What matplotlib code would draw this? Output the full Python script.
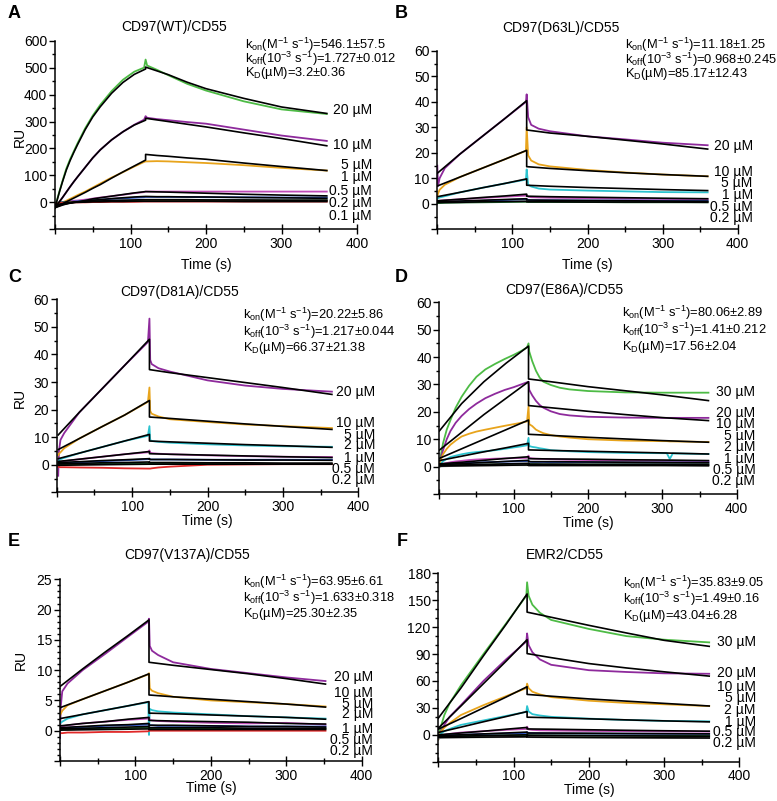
import matplotlib
matplotlib.use("Agg")
import matplotlib.pyplot as plt
from matplotlib.ticker import MultipleLocator, FuncFormatter

plt.rcParams['font.family'] = ['Liberation Sans', 'DejaVu Sans']
plt.rcParams['mathtext.fontset'] = 'custom'
plt.rcParams['mathtext.rm'] = 'Liberation Sans'
plt.rcParams['mathtext.it'] = 'Liberation Sans:italic'
plt.rcParams['mathtext.bf'] = 'Liberation Sans:bold'

W, H = 777, 801

# ---------------- colours ----------------
GREEN, PURPLE, ORANGE, CYAN = '#4dbb45', '#8e2a9c', '#e8a41c', '#2cc3cf'
PINK, BLUE, DKGREEN, RED, GREY = '#c04cb8', '#2d55c4', '#1f6b2e', '#e02828', '#9a9a9a'

# ---------------- Panel A: CD97(WT)/CD55 ----------------
A_conc = ['20 µM', '10 µM', '5 µM', '1 µM', '0.5 µM', '0.2 µM', '0.1 µM']
A_colors = [GREEN, PURPLE, ORANGE, PINK, BLUE, DKGREEN, RED]
A_t_fit = [0, 3, 6, 10, 15, 20, 25, 30, 40, 50, 60, 75, 90, 105, 120, 120, 135, 150, 175, 200, 250, 300, 360]
A_fit_20 = [-20, 10, 40, 77, 120, 155, 186, 215, 270, 317, 355, 405, 445, 475, 495, 502, 488, 474, 446, 422, 386, 354, 330]
A_fit_10 = [-20, -8, 3, 18, 38, 58, 77, 95, 130, 165, 195, 232, 262, 287, 305, 312, 306, 300, 290, 280, 258, 237, 210]
A_fit_5 = [-20, -15, -11, -5, 2, 9, 16, 23, 37, 52, 66, 90, 113, 135, 157, 178, 174, 171, 165, 160, 146, 133, 118]
A_fit_1 = [-20, -17, -14, -10, -6, -3, 0, 2, 7, 13, 17, 23, 29, 35, 40, 40, 39, 38, 36, 34, 30, 27, 24]
A_fit_05 = [-18, -15, -12, -8, -5, -2, 0, 1, 4, 8, 10, 14, 17, 20, 22, 22, 21, 21, 20, 20, 18, 17, 15]
A_fit_02 = [-15, -12, -9, -6, -4, -2, 0, 1, 2, 4, 5, 7, 8, 9, 10, 10, 10, 10, 10, 9, 9, 8, 8]
A_fit_01 = [-12, -10, -7, -5, -3, -1, 0, 0, 1, 2, 2, 3, 3, 4, 4, 4, 4, 4, 4, 4, 3, 3, 3]
A_t_dat = [0, 3, 6, 10, 15, 20, 25, 30, 40, 50, 60, 75, 90, 105, 118, 120, 122, 135, 150, 175, 200, 250, 300, 360]
A_dat_20 = [-15, 12, 42, 80, 125, 160, 190, 220, 275, 322, 362, 413, 455, 485, 500, 530, 508, 492, 472, 440, 415, 375, 345, 328]
A_dat_10 = [-15, -8, 3, 18, 38, 58, 77, 95, 130, 165, 195, 232, 262, 288, 307, 320, 314, 309, 305, 298, 292, 270, 248, 228]
A_dat_5 = [-10, -7, -4, 0, 6, 13, 20, 27, 40, 55, 70, 92, 112, 133, 150, 152, 152, 153, 152, 149, 146, 138, 128, 118]
A_dat_1 = [-5, -3, -1, 0, 2, 4, 6, 7, 10, 14, 18, 23, 28, 34, 38, 40, 40, 40, 40, 40, 40, 40, 40, 40]
A_dat_05 = [-5, -3, -1, 0, 1, 2, 3, 4, 6, 8, 10, 13, 15, 17, 19, 20, 20, 20, 20, 20, 19, 19, 18, 18]
A_dat_02 = [-3, -2, -1, 0, 1, 1, 2, 2, 3, 4, 4, 5, 6, 6, 7, 8, 8, 8, 8, 8, 8, 7, 7, 7]
A_dat_01 = [-5, -4, -3, -2, -1, -1, 0, 0, 0, 1, 1, 2, 2, 2, 3, 3, 3, 3, 3, 3, 3, 3, 3, 3]
A_label_y = [341, 214, 140, 94, 41, -2, -52]

# ---------------- Panel B: CD97(D63L)/CD55 ----------------
B_conc = ['20 µM', '10 µM', '5 µM', '1 µM', '0.5 µM', '0.2 µM']
B_colors = [PURPLE, ORANGE, CYAN, PINK, BLUE, DKGREEN]
B_t_fit = [0, 30, 60, 90, 119, 119, 150, 200, 250, 300, 360]
B_fit_20 = [12, 19.5, 26.5, 33.5, 40.5, 29, 27.8, 26.5, 25, 23.5, 21.5]
B_fit_10 = [7, 10.5, 14, 17.5, 21, 14.6, 13.9, 13.0, 12.2, 11.5, 10.8]
B_fit_5 = [2.8, 4.5, 6.3, 8.0, 9.8, 7.3, 6.9, 6.4, 6.0, 5.6, 5.2]
B_fit_1 = [1.2, 1.8, 2.5, 3.1, 3.8, 3.0, 2.8, 2.6, 2.4, 2.2, 2.0]
B_fit_05 = [0.8, 1.1, 1.4, 1.7, 2.0, 1.5, 1.4, 1.3, 1.2, 1.1, 1.0]
B_fit_02 = [0.5, 0.6, 0.8, 0.9, 1.0, 0.8, 0.8, 0.7, 0.7, 0.7, 0.6]
B_t_dat = [0, 1, 3, 10, 30, 60, 90, 118, 119, 121, 125, 135, 150, 200, 250, 300, 360]
B_dat_20 = [15, 7, 10, 14, 19.5, 26.5, 33.5, 40, 43, 34, 31, 29.5, 28.5, 26.5, 25.3, 24, 23]
B_dat_10 = [3, 4, 5.5, 7.5, 10.5, 14, 17.5, 20.8, 30, 19, 17, 15.5, 14.7, 13.3, 12.3, 11.5, 10.8]
B_dat_5 = [2, 2.2, 2.5, 3, 4.5, 6.3, 8, 9.5, 13.5, 7.5, 6.8, 6.0, 5.6, 5.2, 4.9, 4.6, 4.5]
B_dat_1 = [1, 1.1, 1.2, 1.4, 1.8, 2.3, 2.8, 3.2, 3.5, 2.8, 2.6, 2.5, 2.4, 2.2, 2.0, 1.9, 1.8]
B_dat_05 = [0.5, 0.5, 0.6, 0.7, 0.9, 1.2, 1.5, 1.8, 1.9, 1.5, 1.4, 1.4, 1.4, 1.3, 1.3, 1.2, 1.2]
B_dat_02 = [0.3, 0.3, 0.3, 0.4, 0.5, 0.6, 0.7, 0.8, 0.8, 0.7, 0.7, 0.7, 0.7, 0.7, 0.6, 0.6, 0.6]
B_label_y = [22.7, 12.6, 8.3, 3.3, -1.4, -5.6]

# ---------------- Panel C: CD97(D81A)/CD55 ----------------
C_conc = ['20 µM', '10 µM', '5 µM', '2 µM', '1 µM', '0.5 µM', '0.2 µM']
C_colors = [PURPLE, ORANGE, CYAN, PINK, BLUE, DKGREEN, RED]
C_t_fit = [2, 30, 60, 90, 123, 123, 150, 200, 250, 300, 365]
C_fit_20 = [10.8, 19, 27.5, 36, 45.5, 34.5, 33.4, 31.6, 29.8, 28.0, 25.5]
C_fit_10 = [5.5, 9.5, 13.8, 18, 23.3, 17.3, 16.8, 15.8, 14.8, 13.9, 12.8]
C_fit_5 = [2.2, 4.2, 6.4, 8.6, 11, 8.6, 8.3, 7.8, 7.3, 6.9, 6.3]
C_fit_2 = [1.2, 2.0, 2.9, 3.8, 4.8, 4.0, 3.8, 3.5, 3.2, 2.9, 2.6]
C_fit_1 = [0.8, 1.1, 1.5, 1.8, 2.2, 1.9, 1.9, 1.8, 1.7, 1.7, 1.6]
C_fit_05 = [0.3, 0.5, 0.7, 0.8, 1.0, 0.8, 0.8, 0.7, 0.7, 0.6, 0.6]
C_fit_02 = [-0.2, -0.1, 0, 0.1, 0.2, 0.2, 0.2, 0.2, 0.2, 0.2, 0.2]
C_t_dat = [2, 3, 5, 10, 30, 60, 90, 121, 123, 124, 126, 135, 150, 200, 250, 300, 365]
C_dat_20 = [-4, 5, 9, 11.5, 19, 27.5, 36, 44.5, 53, 38, 36.5, 35, 33.8, 30.6, 28.7, 27.5, 26.5]
C_dat_10 = [3.5, 4, 4.5, 6, 9.5, 13.8, 18, 22.8, 28, 19.5, 18.5, 17.5, 16.5, 15.5, 14.6, 14, 13.3]
C_dat_5 = [1.0, 1.5, 2, 2.5, 4.2, 6.4, 8.6, 10.5, 14, 9, 8.6, 8.3, 8, 7.4, 7, 6.7, 6.5]
C_dat_2 = [0.5, 0.8, 1.0, 1.3, 2.0, 2.9, 3.8, 4.5, 5.2, 4.4, 4.2, 4.0, 3.8, 3.4, 3.1, 2.9, 2.8]
C_dat_1 = [0.3, 0.4, 0.5, 0.6, 0.9, 1.3, 1.6, 2.0, 2.2, 1.9, 1.9, 1.9, 1.9, 1.8, 1.8, 1.8, 1.8]
C_dat_05 = [0, 0, 0, 0.1, 0.2, 0.3, 0.4, 0.5, 0.5, 0.4, 0.4, 0.4, 0.4, 0.3, 0.3, 0.3, 0.3]
C_dat_02 = [-0.8, -0.8, -0.9, -0.9, -1.0, -1.1, -1.3, -1.4, -1.4, -1.4, -1.3, -1.0, -0.7, 0, 0.1, 0.2, 0.2]
C_label_y = [26.5, 15, 10.8, 7, 2.4, -1.6, -5.4]

# ---------------- Panel D: CD97(E86A)/CD55 ----------------
D_conc = ['30 µM', '20 µM', '10 µM', '5 µM', '2 µM', '1 µM', '0.5 µM', '0.2 µM']
D_colors = [GREEN, PURPLE, ORANGE, CYAN, PINK, BLUE, DKGREEN, GREY]
D_t_fit = [0, 30, 60, 90, 120, 120, 150, 200, 250, 300, 362]
D_fit_30 = [13, 23, 31, 37.8, 44, 32, 31, 29.2, 27.7, 26.2, 24.1]
D_fit_20 = [6, 12.5, 19, 25, 31, 22.3, 21.5, 20.2, 19.0, 17.9, 16.8]
D_fit_10 = [3, 6.5, 10, 13.5, 17, 11.8, 11.4, 10.7, 10.1, 9.5, 8.9]
D_fit_5 = [2.2, 3.8, 5.4, 6.9, 8.5, 6.1, 5.9, 5.6, 5.3, 5.0, 4.6]
D_fit_2 = [1, 1.6, 2.3, 3.0, 3.6, 2.9, 2.8, 2.7, 2.5, 2.4, 2.2]
D_fit_1 = [0.7, 1.1, 1.5, 1.9, 2.3, 1.8, 1.8, 1.7, 1.6, 1.5, 1.4]
D_fit_05 = [0.4, 0.6, 0.8, 1.0, 1.2, 0.9, 0.9, 0.8, 0.8, 0.8, 0.7]
D_fit_02 = [0.2, 0.3, 0.4, 0.5, 0.6, 0.4, 0.4, 0.4, 0.4, 0.4, 0.3]
D_t_dat = [0, 2, 5, 10, 15, 22, 30, 40, 50, 62, 75, 88, 100, 110, 118, 120, 121, 125, 130, 135, 140,
           150, 162, 175, 200, 250, 300, 306, 310, 314, 362]
D_dat_30 = [0, 4, 8.5, 13.5, 17, 21.5, 25.5, 29.5, 32.8, 35.5, 37.5, 39.3, 40.8, 42.2, 43.5, 45, 42, 38.5,
            35, 32.5, 31, 29.8, 28.8, 28.2, 27.6, 27.1, 27, 27, 27, 27, 27]
D_dat_20 = [0, 3, 6, 10, 13, 16, 18.5, 21, 23, 25, 26.6, 28, 29, 30, 30.8, 31, 28, 26, 24, 22.5, 21.5,
            20.2, 19.2, 18.7, 18.2, 17.9, 17.8, 17.8, 17.8, 17.8, 17.8]
D_dat_10 = [0, 2.5, 4.5, 6.5, 8, 9.5, 11, 12, 12.8, 13.5, 14.2, 14.9, 15.5, 16, 16.5, 22, 15.5, 14.8,
            13.5, 12.8, 12.2, 11.5, 11, 10.6, 10, 9.5, 9.3, 9.3, 9.2, 9.2, 9]
D_dat_5 = [0, 1, 2, 2.8, 3.5, 4, 4.5, 5, 5.3, 5.6, 6, 6.5, 7, 7.4, 7.8, 10.5, 7.5, 7.2, 7, 6.7, 6.5,
           6, 5.8, 5.6, 5.3, 5, 4.9, 4.9, 2.8, 4.8, 4.6]
D_dat_2 = [0, 0.5, 1, 1.3, 1.6, 1.9, 2.1, 2.4, 2.6, 2.75, 2.9, 3.0, 3.1, 3.15, 3.2, 4, 3.2, 3.0, 2.9,
           2.85, 2.8, 2.7, 2.6, 2.5, 2.4, 2.2, 2.1, 2.1, 2.1, 2.1, 2.0]
D_dat_1 = [0, 0.3, 0.6, 0.8, 1.0, 1.15, 1.3, 1.4, 1.5, 1.6, 1.7, 1.8, 1.9, 1.95, 2.0, 2.3, 1.8, 1.7,
           1.7, 1.7, 1.7, 1.6, 1.6, 1.6, 1.6, 1.5, 1.5, 1.5, 1.5, 1.5, 1.5]
D_dat_05 = [0, 0.15, 0.3, 0.4, 0.5, 0.55, 0.6, 0.65, 0.7, 0.75, 0.8, 0.85, 0.9, 0.95, 1.0, 1.1, 0.9,
            0.9, 0.9, 0.85, 0.8, 0.8, 0.8, 0.8, 0.8, 0.8, 0.8, 0.8, 0.8, 0.8, 0.8]
D_dat_02 = [0, 0.05, 0.1, 0.15, 0.2, 0.25, 0.3, 0.35, 0.4, 0.4, 0.4, 0.45, 0.5, 0.5, 0.5, 0.5, 0.5,
            0.5, 0.5, 0.5, 0.5, 0.5, 0.5, 0.5, 0.5, 0.5, 0.5, 0.5, 0.5, 0.5, 0.5]
D_label_y = [27.4, 19.5, 15.5, 11.3, 7.3, 2.7, -1.2, -5.2]

# ---------------- Panel E: CD97(V137A)/CD55 ----------------
E_conc = ['20 µM', '10 µM', '5 µM', '2 µM', '1 µM', '0.5 µM', '0.2 µM']
E_colors = [PURPLE, ORANGE, CYAN, PINK, BLUE, DKGREEN, RED]
E_t_fit = [0, 30, 60, 90, 118, 118, 150, 200, 250, 300, 352]
E_fit_20 = [7.3, 10.2, 13, 15.7, 18.3, 11.3, 10.8, 10.1, 9.4, 8.6, 7.7]
E_fit_10 = [3.8, 5.2, 6.6, 8.0, 9.4, 5.9, 5.6, 5.2, 4.8, 4.4, 3.9]
E_fit_5 = [2.0, 2.7, 3.4, 4.1, 4.8, 2.9, 2.8, 2.6, 2.4, 2.2, 1.9]
E_fit_2 = [0.8, 1.2, 1.5, 1.9, 2.2, 1.7, 1.6, 1.5, 1.4, 1.2, 1.1]
E_fit_1 = [0.5, 0.7, 0.9, 1.0, 1.2, 0.9, 0.9, 0.8, 0.7, 0.7, 0.6]
E_fit_05 = [0.3, 0.4, 0.5, 0.6, 0.7, 0.5, 0.5, 0.5, 0.4, 0.4, 0.4]
E_fit_02 = [0.1, 0.15, 0.2, 0.25, 0.3, 0.2, 0.2, 0.2, 0.2, 0.2, 0.2]
E_t_dat = [0, 1, 3, 10, 30, 60, 90, 117, 118, 119, 122, 130, 150, 200, 250, 300, 352]
E_dat_20 = [-1.2, 4, 6.5, 7.8, 10, 12.7, 15.5, 18, 18.5, 14, 13.2, 12.5, 11.3, 10.2, 9.5, 8.8, 8.2]
E_dat_10 = [2.5, 2.8, 3.3, 4.2, 5.2, 6.6, 8, 9.3, 9.5, 7, 6.6, 6.2, 5.6, 5.0, 4.7, 4.4, 4.0]
E_dat_5 = [1.2, 1.3, 1.5, 2.0, 2.7, 3.4, 4.1, 4.7, -0.7, 3.6, 3.4, 3.2, 3.0, 2.7, 2.4, 2.2, 2.0]
E_dat_2 = [0.5, 0.6, 0.7, 0.9, 1.2, 1.5, 1.8, 2.0, 2.2, 1.8, 1.7, 1.6, 1.5, 1.3, 1.2, 1.3, 1.0]
E_dat_1 = [0.3, 0.3, 0.4, 0.5, 0.6, 0.8, 0.9, 1.0, 1.1, 0.9, 0.9, 0.8, 0.8, 0.8, 0.7, 0.7, 0.7]
E_dat_05 = [0.1, 0.1, 0.2, 0.2, 0.3, 0.4, 0.4, 0.5, 0.5, 0.4, 0.4, 0.4, 0.4, 0.4, 0.3, 0.3, 0.3]
E_dat_02 = [-0.5, -0.4, -0.4, -0.3, -0.3, -0.2, -0.2, -0.1, 0, 0, 0, 0, 0, 0, 0, 0, 0]
E_label_y = [8.8, 6.3, 4.4, 2.7, 0.3, -1.5, -3.3]

# ---------------- Panel F: EMR2/CD55 ----------------
F_conc = ['30 µM', '20 µM', '10 µM', '5 µM', '2 µM', '1 µM', '0.5 µM', '0.2 µM']
F_colors = [GREEN, PURPLE, ORANGE, CYAN, PINK, BLUE, DKGREEN, GREY]
F_t_fit = [0, 30, 60, 90, 118, 118, 150, 200, 250, 300, 360]
F_fit_30 = [18.5, 52, 88, 123, 157, 136.7, 131, 122, 113.5, 105.3, 98.6]
F_fit_20 = [7.4, 32, 57, 82, 106, 90.5, 86, 79.4, 74.5, 70.2, 65.4]
F_fit_10 = [6.3, 18, 30, 42, 53.6, 45, 43, 40, 37.5, 35, 32.1]
F_fit_5 = [2.6, 8.5, 14.5, 20.3, 25.9, 19.6, 19, 17.8, 16.6, 15.5, 14.4]
F_fit_2 = [0, 2, 4, 6.2, 8.2, 6.5, 6.2, 5.6, 5.0, 4.5, 4.0]
F_fit_1 = [-1, 0, 1, 2, 3, 2, 1.9, 1.7, 1.4, 1.2, 1.0]
F_fit_05 = [-2, -1.5, -1, -0.5, 0, -0.5, -0.7, -1.0, -1.2, -1.4, -1.6]
F_fit_02 = [-3, -2.8, -2.6, -2.4, -2.2, -2.5, -2.7, -3, -3.2, -3.4, -3.6]
F_t_dat = [0, 3, 8, 15, 30, 60, 90, 117, 118, 120, 125, 135, 150, 200, 250, 300, 360]
F_dat_30 = [-5, 8, 22, 35, 55, 90, 124, 155, 170, 155, 145, 136, 128, 118, 110, 106, 103]
F_dat_20 = [-5, 3, 11, 20, 33, 60, 84, 104, 113, 100, 92, 84, 78, 72, 70, 68.5, 68]
F_dat_10 = [-5, 3, 8, 13, 22, 33, 43, 52, 57, 52, 48, 45, 42, 38, 35.5, 34, 32]
F_dat_5 = [-3, 1, 4, 6.5, 11, 16, 21, 25.5, 32, 26, 23, 21.5, 20, 18, 16.5, 15.5, 15]
F_dat_2 = [-2, -1, 0, 1, 2.5, 4, 5.5, 6.5, 9, 6, 5.5, 5.0, 4.8, 4.3, 4.0, 3.7, 3.5]
F_dat_1 = [-2, -1.5, -1, -0.5, 0, 0.8, 1.5, 2, 3, 1.8, 1.7, 1.6, 1.5, 1.3, 1.2, 1.1, 1.0]
F_dat_05 = [-3, -2.5, -2, -1.8, -1.5, -1, -0.6, -0.3, 0.5, -0.5, -0.6, -0.7, -0.8, -1.0, -1.1, -1.2, -1.3]
F_dat_02 = [-4, -3.5, -3.3, -3.2, -3, -2.8, -2.6, -2.4, -2, -2.6, -2.7, -2.8, -2.9, -3.0, -3.1, -3.2, -3.3]
F_label_y = [103, 69, 53.6, 40.6, 27.7, 14.8, 2.6, -9.2]

# ---------------- panel texts ----------------
titles = ['CD97(WT)/CD55', 'CD97(D63L)/CD55', 'CD97(D81A)/CD55',
          'CD97(E86A)/CD55', 'CD97(V137A)/CD55', 'EMR2/CD55']
kon = ['546.1±57.5', '11.18±1.25', '20.22±5.86', '80.06±2.89', '63.95±6.61', '35.83±9.05']
koff = ['1.727±0.012', '0.968±0.245', '1.217±0.044', '1.41±0.212', '1.633±0.318', '1.49±0.16']
kd = ['3.2±0.36', '85.17±12.43', '66.37±21.38', '17.56±2.04', '25.30±2.35', '43.04±6.28']
letters = ['A', 'B', 'C', 'D', 'E', 'F']

panels = [
    dict(tf=A_t_fit, fits=[A_fit_20, A_fit_10, A_fit_5, A_fit_1, A_fit_05, A_fit_02, A_fit_01],
         td=A_t_dat, dats=[A_dat_20, A_dat_10, A_dat_5, A_dat_1, A_dat_05, A_dat_02, A_dat_01],
         colors=A_colors, conc=A_conc, ly=A_label_y),
    dict(tf=B_t_fit, fits=[B_fit_20, B_fit_10, B_fit_5, B_fit_1, B_fit_05, B_fit_02],
         td=B_t_dat, dats=[B_dat_20, B_dat_10, B_dat_5, B_dat_1, B_dat_05, B_dat_02],
         colors=B_colors, conc=B_conc, ly=B_label_y),
    dict(tf=C_t_fit, fits=[C_fit_20, C_fit_10, C_fit_5, C_fit_2, C_fit_1, C_fit_05, C_fit_02],
         td=C_t_dat, dats=[C_dat_20, C_dat_10, C_dat_5, C_dat_2, C_dat_1, C_dat_05, C_dat_02],
         colors=C_colors, conc=C_conc, ly=C_label_y),
    dict(tf=D_t_fit, fits=[D_fit_30, D_fit_20, D_fit_10, D_fit_5, D_fit_2, D_fit_1, D_fit_05, D_fit_02],
         td=D_t_dat, dats=[D_dat_30, D_dat_20, D_dat_10, D_dat_5, D_dat_2, D_dat_1, D_dat_05, D_dat_02],
         colors=D_colors, conc=D_conc, ly=D_label_y),
    dict(tf=E_t_fit, fits=[E_fit_20, E_fit_10, E_fit_5, E_fit_2, E_fit_1, E_fit_05, E_fit_02],
         td=E_t_dat, dats=[E_dat_20, E_dat_10, E_dat_5, E_dat_2, E_dat_1, E_dat_05, E_dat_02],
         colors=E_colors, conc=E_conc, ly=E_label_y),
    dict(tf=F_t_fit, fits=[F_fit_30, F_fit_20, F_fit_10, F_fit_5, F_fit_2, F_fit_1, F_fit_05, F_fit_02],
         td=F_t_dat, dats=[F_dat_30, F_dat_20, F_dat_10, F_dat_5, F_dat_2, F_dat_1, F_dat_05, F_dat_02],
         colors=F_colors, conc=F_conc, ly=F_label_y),
]

# ---------------- layout (pixels) ----------------
boxes = [(55, 357, 40.7, 229.3), (437.3, 737.7, 51, 229.3),
         (56.7, 358.3, 299.3, 492.3), (439.3, 736.7, 302.3, 494),
         (60, 361.7, 579.3, 761), (438.3, 739.3, 573.3, 761.7)]
ylims = [(-100, 600), (-10, 60), (-10, 60), (-10, 60), (-5, 25), (-30, 180)]
ymajor = [100, 10, 10, 10, 5, 30]
yminor = [50, 5, 5, 5, 1, 10]
label_x = [420, 420, 422, 425, 415, 422]
title_pos = [(174, 27), (561, 28), (180, 292), (564, 290), (187, 555), (565, 555)]
ann_pos = [(245, [45, 59, 73]), (625, [45, 60, 74]), (243, [315, 331.5, 348]),
           (622, [313, 330, 346.5]), (243, [581.5, 598, 614.5]), (623, [582.5, 599, 615.5])]
letter_pos = [(8, 14), (395, 14), (8, 277), (395, 277), (8, 541), (397, 541)]
xlabel_pos = [(206, 265), (587, 265), (207, 521.5), (588, 523), (211, 788), (589, 790)]
ru_pos = [(20, 137), (20, 398), (21, 660)]

fig = plt.figure(figsize=(W / 100, H / 100), dpi=100)


def fx(x):
    return x / W


def fy(y):
    return 1 - y / H


for i, p in enumerate(panels):
    l, r, t, b = boxes[i]
    ax = fig.add_axes([fx(l), fy(b), (r - l) / W, (b - t) / H])
    for k in range(len(p['fits'])):
        ax.plot(p['td'], p['dats'][k], color=p['colors'][k], lw=1.3, zorder=2,
                solid_joinstyle='round')
    for k in range(len(p['fits'])):
        ax.plot(p['tf'], p['fits'][k], color='black', lw=1.2, zorder=3,
                solid_joinstyle='round')
    for k, c in enumerate(p['conc']):
        ax.text(label_x[i], p['ly'][k], c, ha='right', va='center', fontsize=10,
                clip_on=False)
    ax.set_xlim(0, 400)
    ax.set_ylim(*ylims[i])
    for s in ['top', 'right']:
        ax.spines[s].set_visible(False)
    for s in ['left', 'bottom']:
        ax.spines[s].set_linewidth(1.1)
    ax.xaxis.set_major_locator(MultipleLocator(100))
    ax.xaxis.set_minor_locator(MultipleLocator(50))
    ax.yaxis.set_major_locator(MultipleLocator(ymajor[i]))
    ax.yaxis.set_minor_locator(MultipleLocator(yminor[i]))
    ax.xaxis.set_major_formatter(FuncFormatter(lambda v, pos: '' if v <= 0 else '%d' % v))
    ax.yaxis.set_major_formatter(FuncFormatter(lambda v, pos: '' if v < 0 else '%d' % v))
    ax.tick_params(axis='x', which='major', direction='inout', length=7, width=1.0,
                   labelsize=10, pad=2)
    ax.tick_params(axis='x', which='minor', direction='inout', length=4, width=1.0)
    ax.tick_params(axis='y', which='major', direction='out', length=4, width=1.0,
                   labelsize=10, pad=1.5)
    ax.tick_params(axis='y', which='minor', direction='out', length=2.5, width=1.0)

    fig.text(fx(title_pos[i][0]), fy(title_pos[i][1]), titles[i], ha='center',
             va='center', fontsize=10)
    ax0, ays = ann_pos[i]
    fig.text(fx(ax0), fy(ays[0]), r'k$_{\mathrm{on}}$(M$^{\mathrm{-1}}$ s$^{\mathrm{-1}}$)=' + kon[i],
             ha='left', va='center', fontsize=9.3)
    fig.text(fx(ax0), fy(ays[1]), r'k$_{\mathrm{off}}$(10$^{\mathrm{-3}}$ s$^{\mathrm{-1}}$)=' + koff[i],
             ha='left', va='center', fontsize=9.3)
    fig.text(fx(ax0), fy(ays[2]), r'K$_{\mathrm{D}}$(µM)=' + kd[i],
             ha='left', va='center', fontsize=9.3)
    fig.text(fx(letter_pos[i][0]), fy(letter_pos[i][1]), letters[i], ha='left',
             va='center', fontsize=13, fontweight='bold')
    fig.text(fx(xlabel_pos[i][0]), fy(xlabel_pos[i][1]), 'Time (s)', ha='center',
             va='center', fontsize=10)

for (x, y) in ru_pos:
    fig.text(fx(x), fy(y), 'RU', ha='center', va='center', rotation=90, fontsize=10)

fig.savefig('out.png', dpi=100)
